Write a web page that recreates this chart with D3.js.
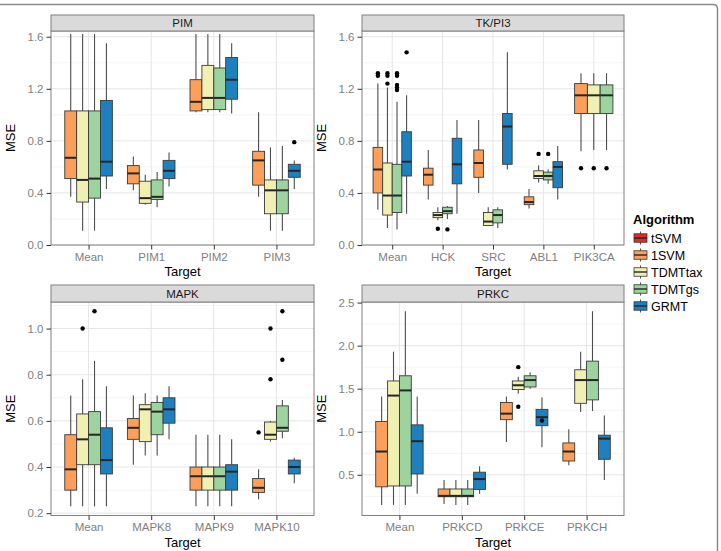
<!DOCTYPE html>
<html>
<head>
<meta charset="utf-8">
<script src="https://cdn.jsdelivr.net/npm/d3@7"></script>
<style>
  html, body { margin: 0; padding: 0; background: #fff; }
  svg { display: block; font-family: "Liberation Sans", Arial, Helvetica, sans-serif; }
</style>
</head>
<body>
<svg id="chart" width="721" height="551"></svg>
<script>
// ---------------- DATA ----------------
const algorithms = ["tSVM", "1SVM", "TDMTtax", "TDMTgs", "GRMT"];
const algorithmColors = ["#dc2a26", "#fb9f5b", "#eff0b2", "#9dd39f", "#1f80bf"];

// Each box: [target, algorithm, lowerWhisker, q1, median, q3, upperWhisker, outliers]
const pimTargets = ["Mean", "PIM1", "PIM2", "PIM3"];
const pimTicks = [0.0, 0.4, 0.8, 1.2, 1.6];
const pimBoxes = [
  ["Mean", "1SVM",    0.37, 0.51, 0.67, 1.03, 1.62, []],
  ["Mean", "TDMTtax", 0.11, 0.33, 0.50, 1.03, 1.62, []],
  ["Mean", "TDMTgs",  0.11, 0.36, 0.51, 1.03, 1.62, []],
  ["Mean", "GRMT",    0.43, 0.53, 0.64, 1.11, 1.55, []],
  ["PIM1", "1SVM",    0.42, 0.47, 0.55, 0.61, 0.68, []],
  ["PIM1", "TDMTtax", 0.31, 0.32, 0.36, 0.49, 0.54, []],
  ["PIM1", "TDMTgs",  0.29, 0.35, 0.37, 0.50, 0.56, []],
  ["PIM1", "GRMT",    0.45, 0.51, 0.57, 0.65, 0.71, []],
  ["PIM2", "1SVM",    1.02, 1.03, 1.10, 1.27, 1.62, []],
  ["PIM2", "TDMTtax", 1.02, 1.04, 1.13, 1.38, 1.62, []],
  ["PIM2", "TDMTgs",  1.02, 1.04, 1.13, 1.36, 1.62, []],
  ["PIM2", "GRMT",    1.01, 1.12, 1.27, 1.44, 1.55, []],
  ["PIM3", "1SVM",    0.37, 0.46, 0.65, 0.72, 1.02, []],
  ["PIM3", "TDMTtax", 0.11, 0.24, 0.42, 0.50, 0.75, []],
  ["PIM3", "TDMTgs",  0.11, 0.24, 0.42, 0.50, 0.76, []],
  ["PIM3", "GRMT",    0.43, 0.52, 0.57, 0.62, 0.65, [0.79]]
];

const tkTargets = ["Mean", "HCK", "SRC", "ABL1", "PIK3CA"];
const tkTicks = [0.0, 0.4, 0.8, 1.2, 1.6];
const tkBoxes = [
  ["Mean", "1SVM",    0.27, 0.40, 0.58, 0.75, 1.24, [1.30, 1.32]],
  ["Mean", "TDMTtax", 0.13, 0.23, 0.38, 0.63, 1.21, [1.24, 1.30, 1.32]],
  ["Mean", "TDMTgs",  0.12, 0.25, 0.38, 0.62, 1.10, [1.19, 1.21, 1.23, 1.30, 1.32]],
  ["Mean", "GRMT",    0.24, 0.53, 0.64, 0.87, 1.15, [1.48]],
  ["HCK", "1SVM",     0.35, 0.46, 0.54, 0.59, 0.73, []],
  ["HCK", "TDMTtax",  0.19, 0.21, 0.23, 0.25, 0.29, [0.125]],
  ["HCK", "TDMTgs",   0.20, 0.24, 0.26, 0.29, 0.30, [0.12]],
  ["HCK", "GRMT",     0.24, 0.47, 0.62, 0.82, 0.96, []],
  ["SRC", "1SVM",     0.40, 0.52, 0.63, 0.73, 0.96, []],
  ["SRC", "TDMTtax",  0.15, 0.15, 0.18, 0.25, 0.29, []],
  ["SRC", "TDMTgs",   0.13, 0.17, 0.23, 0.27, 0.29, []],
  ["SRC", "GRMT",     0.58, 0.62, 0.91, 1.01, 1.48, []],
  ["ABL1", "1SVM",    0.28, 0.31, 0.33, 0.37, 0.43, []],
  ["ABL1", "TDMTtax", 0.48, 0.51, 0.53, 0.57, 0.61, [0.70]],
  ["ABL1", "TDMTgs",  0.47, 0.50, 0.53, 0.56, 0.58, [0.70]],
  ["ABL1", "GRMT",    0.35, 0.44, 0.60, 0.64, 0.76, []],
  ["PIK3CA", "1SVM",    0.72, 1.01, 1.15, 1.24, 1.32, [0.59]],
  ["PIK3CA", "TDMTtax", 0.73, 1.01, 1.15, 1.23, 1.32, [0.59]],
  ["PIK3CA", "TDMTgs",  0.73, 1.01, 1.15, 1.23, 1.32, [0.59]]
];

const mapkTargets = ["Mean", "MAPK8", "MAPK9", "MAPK10"];
const mapkTicks = [0.2, 0.4, 0.6, 0.8, 1.0];
const mapkBoxes = [
  ["Mean", "1SVM",    0.23, 0.30, 0.39, 0.54, 0.71, []],
  ["Mean", "TDMTtax", 0.23, 0.41, 0.52, 0.63, 0.78, [1.00]],
  ["Mean", "TDMTgs",  0.23, 0.41, 0.54, 0.64, 0.86, [1.075]],
  ["Mean", "GRMT",    0.23, 0.37, 0.43, 0.57, 0.75, []],
  ["MAPK8", "1SVM",    0.41, 0.52, 0.57, 0.61, 0.71, []],
  ["MAPK8", "TDMTtax", 0.45, 0.51, 0.65, 0.67, 0.72, []],
  ["MAPK8", "TDMTgs",  0.45, 0.54, 0.64, 0.68, 0.71, []],
  ["MAPK8", "GRMT",    0.52, 0.59, 0.65, 0.70, 0.75, []],
  ["MAPK9", "1SVM",    0.23, 0.30, 0.36, 0.40, 0.54, []],
  ["MAPK9", "TDMTtax", 0.23, 0.30, 0.36, 0.40, 0.54, []],
  ["MAPK9", "TDMTgs",  0.23, 0.30, 0.36, 0.40, 0.54, []],
  ["MAPK9", "GRMT",    0.23, 0.30, 0.38, 0.41, 0.52, []],
  ["MAPK10", "1SVM",    0.26, 0.29, 0.31, 0.35, 0.39, [0.55]],
  ["MAPK10", "TDMTtax", 0.51, 0.52, 0.54, 0.595, 0.60, [0.78, 1.00]],
  ["MAPK10", "TDMTgs",  0.525, 0.555, 0.57, 0.665, 0.69, [0.865, 1.075]],
  ["MAPK10", "GRMT",    0.33, 0.37, 0.40, 0.43, 0.44, []]
];

const prkcTargets = ["Mean", "PRKCD", "PRKCE", "PRKCH"];
const prkcTicks = [0.5, 1.0, 1.5, 2.0, 2.5];
const prkcBoxes = [
  ["Mean", "1SVM",    0.15, 0.36, 0.77, 1.12, 1.41, []],
  ["Mean", "TDMTtax", 0.15, 0.37, 1.42, 1.59, 1.93, []],
  ["Mean", "TDMTgs",  0.15, 0.37, 1.48, 1.65, 2.40, []],
  ["Mean", "GRMT",    0.28, 0.51, 0.89, 1.08, 1.41, []],
  ["PRKCD", "1SVM",    0.16, 0.245, 0.255, 0.335, 0.44, []],
  ["PRKCD", "TDMTtax", 0.15, 0.245, 0.255, 0.335, 0.44, []],
  ["PRKCD", "TDMTgs",  0.15, 0.245, 0.255, 0.335, 0.44, []],
  ["PRKCD", "GRMT",    0.28, 0.33, 0.45, 0.53, 0.60, []],
  ["PRKCE", "1SVM",    0.88, 1.14, 1.21, 1.34, 1.41, []],
  ["PRKCE", "TDMTtax", 1.44, 1.49, 1.54, 1.59, 1.64, [1.75, 1.29]],
  ["PRKCE", "TDMTgs",  1.50, 1.52, 1.60, 1.65, 1.69, []],
  ["PRKCE", "GRMT",    0.82, 1.07, 1.17, 1.26, 1.40, [1.13]],
  ["PRKCH", "1SVM",    0.61, 0.66, 0.77, 0.87, 1.03, []],
  ["PRKCH", "TDMTtax", 1.23, 1.33, 1.60, 1.72, 1.93, []],
  ["PRKCH", "TDMTgs",  1.24, 1.37, 1.60, 1.82, 2.40, []],
  ["PRKCH", "GRMT",    0.44, 0.68, 0.92, 0.96, 1.19, []]
];

// ---------------- LAYOUT ----------------
const panels = [
  { title: "PIM",    targets: pimTargets,  boxes: pimBoxes,  ticks: pimTicks,
    x0: 51, x1: 314, sy0: 15, y0: 31, y1: 245, domain: [0.0, 1.644] },
  { title: "TK/PI3", targets: tkTargets,   boxes: tkBoxes,   ticks: tkTicks,
    x0: 362, x1: 624, sy0: 15, y0: 31, y1: 245, domain: [0.0, 1.644] },
  { title: "MAPK",   targets: mapkTargets, boxes: mapkBoxes, ticks: mapkTicks,
    x0: 51, x1: 314, sy0: 285, y0: 302, y1: 515.5, domain: [0.19, 1.115] },
  { title: "PRKC",   targets: prkcTargets, boxes: prkcBoxes, ticks: prkcTicks,
    x0: 362, x1: 624, sy0: 285, y0: 302, y1: 515.5, domain: [0.027, 2.507] }
];

const svg = d3.select("#chart");
const color = d3.scaleOrdinal().domain(algorithms).range(algorithmColors);
const fmt = d3.format(".1f");

// outer frame
svg.append("path")
  .attr("d", "M0,4.5 H713 Q717.5,4.5 717.5,9 V551")
  .attr("fill", "none").attr("stroke", "#8a8a8a").attr("stroke-width", 1.5);

panels.forEach(p => {
  const g = svg.append("g");
  const x = d3.scalePoint().domain(p.targets).range([p.x0, p.x1]).padding(0.6);
  const y = d3.scaleLinear().domain(p.domain).range([p.y1, p.y0]);
  const step = x.step();

  g.append("rect").attr("x", p.x0).attr("y", p.y0).attr("width", p.x1 - p.x0)
    .attr("height", p.y1 - p.y0).attr("fill", "#fff");

  // minor grid
  const minor = [];
  for (let i = 0; i < p.ticks.length - 1; i++) minor.push((p.ticks[i] + p.ticks[i + 1]) / 2);
  const tstep = p.ticks[1] - p.ticks[0];
  minor.push(p.ticks[0] - tstep / 2, p.ticks[p.ticks.length - 1] + tstep / 2);
  g.selectAll(".minor").data(minor.filter(v => v > p.domain[0] && v < p.domain[1])).enter()
    .append("line").attr("x1", p.x0).attr("x2", p.x1)
    .attr("y1", d => y(d)).attr("y2", d => y(d))
    .attr("stroke", "#f4f4f4").attr("stroke-width", 1);
  // major grid
  g.selectAll(".major").data(p.ticks).enter()
    .append("line").attr("x1", p.x0).attr("x2", p.x1)
    .attr("y1", d => y(d)).attr("y2", d => y(d))
    .attr("stroke", "#e6e6e6").attr("stroke-width", 1);
  g.selectAll(".vmajor").data(p.targets).enter()
    .append("line").attr("y1", p.y0).attr("y2", p.y1)
    .attr("x1", d => x(d)).attr("x2", d => x(d))
    .attr("stroke", "#e6e6e6").attr("stroke-width", 1);

  // boxes
  const total = step * 0.76;
  p.targets.forEach(t => {
    const items = p.boxes.filter(b => b[0] === t)
      .sort((a, b) => algorithms.indexOf(a[1]) - algorithms.indexOf(b[1]));
    const n = items.length;
    const w = total / n;
    items.forEach((b, i) => {
      const left = x(t) - total / 2 + i * w;
      const cx = left + w / 2;
      const bg = g.append("g");
      bg.append("line").attr("x1", cx).attr("x2", cx)
        .attr("y1", y(b[6])).attr("y2", y(b[5]))
        .attr("stroke", "#4d4d4d").attr("stroke-width", 1.1);
      bg.append("line").attr("x1", cx).attr("x2", cx)
        .attr("y1", y(b[3])).attr("y2", y(b[2]))
        .attr("stroke", "#4d4d4d").attr("stroke-width", 1.1);
      bg.append("rect").attr("x", left).attr("width", w)
        .attr("y", y(b[5])).attr("height", Math.max(0.5, y(b[3]) - y(b[5])))
        .attr("fill", color(b[1])).attr("stroke", "#3a3a3a").attr("stroke-width", 0.9);
      bg.append("line").attr("x1", left).attr("x2", left + w)
        .attr("y1", y(b[4])).attr("y2", y(b[4]))
        .attr("stroke", "#262626").attr("stroke-width", 2);
      bg.selectAll("circle").data(b[7]).enter().append("circle")
        .attr("cx", cx).attr("cy", d => y(d)).attr("r", 2.2).attr("fill", "#000");
    });
  });

  // panel border
  g.append("rect").attr("x", p.x0).attr("y", p.y0).attr("width", p.x1 - p.x0)
    .attr("height", p.y1 - p.y0).attr("fill", "none").attr("stroke", "#808080").attr("stroke-width", 1);

  // strip
  g.append("rect").attr("x", p.x0).attr("y", p.sy0).attr("width", p.x1 - p.x0)
    .attr("height", p.y0 - p.sy0).attr("fill", "#dadada").attr("stroke", "#808080").attr("stroke-width", 1);
  g.append("text").attr("x", (p.x0 + p.x1) / 2).attr("y", (p.sy0 + p.y0) / 2 + 4)
    .attr("text-anchor", "middle").attr("font-size", 11.5).attr("fill", "#1a1a1a").text(p.title);

  // y axis
  const yAxis = d3.axisLeft(y).tickValues(p.ticks).tickFormat(fmt).tickSize(4.5).tickPadding(3);
  const ya = g.append("g").attr("transform", `translate(${p.x0},0)`).call(yAxis);
  ya.select(".domain").remove();
  ya.selectAll(".tick line").attr("stroke", "#333");
  ya.selectAll(".tick text").attr("fill", "#7f7f7f").attr("font-size", 11.5)
    .attr("font-family", "Liberation Sans, Arial, sans-serif");

  // x axis
  const xAxis = d3.axisBottom(x).tickSize(4.5).tickPadding(3);
  const xa = g.append("g").attr("transform", `translate(0,${p.y1})`).call(xAxis);
  xa.select(".domain").remove();
  xa.selectAll(".tick line").attr("stroke", "#333");
  xa.selectAll(".tick text").attr("fill", "#7f7f7f").attr("font-size", 11.5)
    .attr("font-family", "Liberation Sans, Arial, sans-serif");

  // axis titles
  g.append("text").attr("x", (p.x0 + p.x1) / 2).attr("y", p.y1 + 31)
    .attr("text-anchor", "middle").attr("font-size", 13).attr("fill", "#000").text("Target");
  const mx = p.x0 - 36;
  const my = (p.y0 + p.y1) / 2;
  g.append("text").attr("transform", `translate(${mx},${my}) rotate(-90)`)
    .attr("text-anchor", "middle").attr("font-size", 13).attr("fill", "#000").text("MSE");
});

// legend
const lg = svg.append("g").attr("transform", "translate(633,0)");
lg.append("text").attr("x", 0).attr("y", 224).attr("font-size", 13).attr("font-weight", "bold")
  .attr("fill", "#000").text("Algorithm");
algorithms.forEach((a, i) => {
  const cy = 238 + i * 17;
  const k = lg.append("g").attr("transform", `translate(0,${cy})`);
  const kw = 15, kh = 15;
  k.append("line").attr("x1", kw / 2).attr("x2", kw / 2).attr("y1", -kh / 2 + 1).attr("y2", kh / 2 - 1)
    .attr("stroke", "#4d4d4d").attr("stroke-width", 1);
  k.append("rect").attr("x", 1).attr("y", -kh / 4 - 0.5).attr("width", kw - 2).attr("height", kh / 2 + 1)
    .attr("fill", color(a)).attr("stroke", "#3a3a3a").attr("stroke-width", 0.8);
  k.append("line").attr("x1", 1).attr("x2", kw - 1).attr("y1", 0).attr("y2", 0)
    .attr("stroke", "#262626").attr("stroke-width", 1.4);
  k.append("text").attr("x", kw + 3).attr("y", 4.5).attr("font-size", 12.5).attr("fill", "#000").text(a);
});
</script>
</body>
</html>
